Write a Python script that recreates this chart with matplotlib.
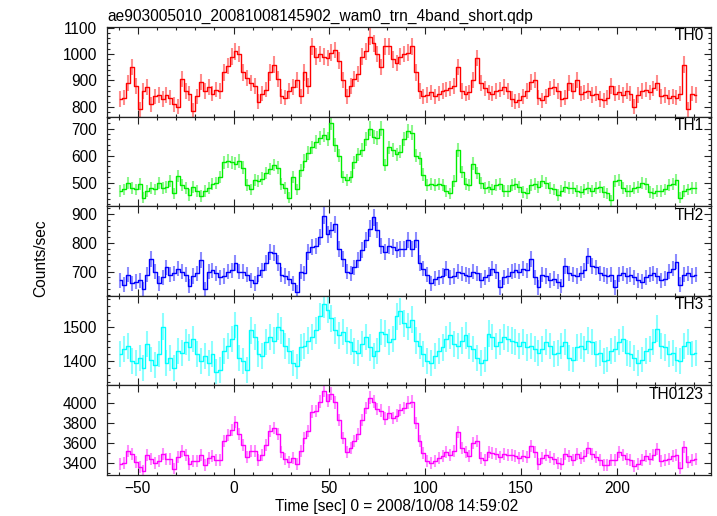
"""Suzaku WAM transient light curve, 4 bands + summed band, qdp replot."""
import numpy as np
import matplotlib
matplotlib.use('Agg')
import matplotlib.pyplot as plt
from matplotlib.ticker import MultipleLocator

plt.rcParams['font.family'] = ['Liberation Sans', 'DejaVu Sans']

TITLE = 'ae903005010_20081008145902_wam0_trn_4band_short.qdp'
XLABEL = 'Time [sec] 0 = 2008/10/08 14:59:02'
YLABEL = 'Counts/sec'

# bin centres [sec], 2 s bins
time = np.arange(-59, 242, 2)

th0 = [830, 835, 890, 950, 880, 790, 860, 875, 810, 840,
       845, 830, 845, 835, 810, 800, 905, 860, 850, 785,
       840, 895, 860, 875, 850, 865, 860, 930, 955, 990,
       1010, 1000, 930, 910, 890, 880, 820, 850, 865, 930,
       960, 905, 840, 835, 860, 875, 900, 840, 930, 880,
       1030, 990, 1000, 990, 985, 1005, 1015, 975, 900, 840,
       880, 905, 925, 990, 1010, 1065, 1040, 1000, 950, 1030,
       1030, 980, 965, 990, 1000, 1005, 1030, 930, 860, 840,
       845, 855, 840, 850, 860, 865, 870, 880, 950, 860,
       850, 855, 900, 985, 890, 870, 855, 850, 860, 865,
       875, 860, 830, 820, 825, 840, 860, 895, 900, 835,
       825, 840, 870, 875, 860, 830, 835, 890, 860, 900,
       850, 855, 860, 845, 850, 830, 825, 835, 880, 850,
       855, 845, 860, 850, 800, 845, 860, 865, 855, 870,
       890, 840, 845, 835, 840, 835, 850, 960, 790, 850,
       845]

th1 = [470, 475, 500, 480, 475, 495, 445, 470, 480, 475,
       500, 480, 485, 505, 460, 525, 490, 480, 455, 485,
       470, 450, 470, 480, 495, 500, 520, 575, 580, 575,
       570, 580, 555, 490, 475, 510, 505, 515, 535, 550,
       565, 555, 495, 480, 445, 520, 475, 545, 580, 610,
       630, 650, 665, 675, 660, 720, 640, 600, 520, 510,
       520, 575, 605, 620, 660, 700, 670, 665, 700, 565,
       630, 620, 605, 615, 660, 690, 685, 600, 590, 530,
       490, 495, 490, 495, 490, 470, 460, 505, 620, 540,
       495, 490, 570, 535, 500, 480, 485, 475, 490, 495,
       470, 470, 490, 495, 485, 465, 460, 490, 495, 485,
       505, 500, 480, 475, 455, 470, 485, 480, 480, 470,
       465, 475, 480, 470, 480, 485, 465, 460, 435, 505,
       510, 480, 470, 470, 480, 485, 500, 495, 465, 460,
       470, 470, 475, 490, 495, 510, 445, 470, 475, 480,
       480]

th2 = [670, 655, 690, 660, 665, 670, 640, 690, 745, 700,
       660, 680, 715, 690, 695, 710, 700, 690, 650, 685,
       695, 740, 640, 700, 705, 695, 680, 685, 700, 705,
       730, 700, 700, 690, 670, 660, 690, 705, 730, 770,
       765, 730, 690, 685, 675, 660, 630, 700, 695, 770,
       785, 790, 820, 895, 830, 845, 865, 780, 745, 700,
       695, 715, 740, 775, 810, 850, 890, 845, 790, 770,
       790, 785, 775, 780, 780, 810, 780, 810, 730, 710,
       690, 660, 675, 680, 685, 710, 680, 685, 700, 695,
       690, 685, 700, 695, 670, 680, 690, 710, 700, 645,
       680, 685, 700, 705, 700, 710, 705, 745, 680, 645,
       690, 685, 670, 675, 665, 650, 720, 695, 690, 685,
       695, 705, 755, 720, 715, 695, 690, 685, 690, 645,
       690, 695, 685, 690, 680, 670, 665, 680, 690, 695,
       685, 670, 675, 700, 710, 735, 655, 690, 695, 685,
       690]

th3 = [1420, 1435, 1445, 1400, 1395, 1410, 1380, 1450, 1405, 1390,
       1420, 1500, 1395, 1410, 1380, 1430, 1425, 1455, 1440, 1465,
       1420, 1400, 1415, 1395, 1420, 1370, 1375, 1430, 1445, 1465,
       1505, 1410, 1400, 1375, 1490, 1470, 1420, 1415, 1455, 1470,
       1460, 1500, 1490, 1445, 1430, 1395, 1385, 1440, 1445, 1460,
       1470, 1490, 1530, 1565, 1550, 1525, 1490, 1475, 1485, 1460,
       1455, 1430, 1425, 1450, 1470, 1440, 1415, 1430, 1485, 1480,
       1455, 1465, 1530, 1545, 1510, 1500, 1520, 1460, 1445, 1420,
       1400, 1395, 1415, 1430, 1440, 1465, 1475, 1450, 1445, 1460,
       1475, 1445, 1435, 1410, 1395, 1405, 1480, 1470, 1445, 1455,
       1470, 1465, 1460, 1455, 1445, 1455, 1440, 1445, 1435, 1425,
       1435, 1455, 1445, 1420, 1425, 1445, 1455, 1410, 1405, 1440,
       1445, 1435, 1460, 1455, 1420, 1425, 1400, 1405, 1430, 1435,
       1455, 1465, 1425, 1420, 1410, 1395, 1405, 1430, 1435, 1455,
       1495, 1445, 1440, 1420, 1425, 1405, 1400, 1445, 1455, 1420,
       1425]

# TH0123 is the sum of the four bands
th0123 = np.sum([th0, th1, th2, th3], axis=0)

PANELS = [
    # label, rates, colour, ylim, major, minor
    ('TH0', th0, '#ff0000', (763, 1102), 100, 20),
    ('TH1', th1, '#00ee00', (413, 744), 100, 20),
    ('TH2', th2, '#0000ff', (616, 928), 100, 20),
    ('TH3', th3, '#00ffff', (1330, 1590), 100, 20),
    ('TH0123', th0123, '#ff00ff', (3282, 4178), 200, 100),
]

XLIM = (-66, 249)
FS = 11.2


def draw_panel(ax, label, rate, color, ylim, major, minor, last):
    rate = np.asarray(rate, dtype=float)
    err = np.sqrt(rate)  # poisson error for 1 s exposure
    ax.errorbar(time, rate, yerr=err, fmt='none', ecolor=color,
                elinewidth=1.5, alpha=0.45, capsize=0)
    ax.step(time, rate, where='mid', color=color, lw=1.0)
    ax.set_xlim(*XLIM)
    ax.set_ylim(*ylim)
    ax.xaxis.set_major_locator(MultipleLocator(50))
    ax.xaxis.set_minor_locator(MultipleLocator(10))
    ax.yaxis.set_major_locator(MultipleLocator(major))
    ax.yaxis.set_minor_locator(MultipleLocator(minor))
    ax.tick_params(which='both', direction='in', top=True, right=True,
                   labelsize=FS, width=0.8, color='#222')
    ax.tick_params(which='major', length=5)
    ax.tick_params(which='minor', length=2.5)
    ax.tick_params(axis='y', pad=7)
    ax.tick_params(axis='x', pad=4, labelbottom=last)
    for sp in ax.spines.values():
        sp.set_linewidth(0.9)
        sp.set_color('#222')
    ax.text(0.988, 0.985, label, transform=ax.transAxes, ha='right',
            va='top', fontsize=FS)


def main():
    W, H = 717, 516
    fig = plt.figure(figsize=(W / 100, H / 100), dpi=100)
    left, right = 107 / W, 711 / W
    top, bottom = 1 - 27 / H, 1 - 475 / H
    h = (top - bottom) / len(PANELS)
    for i, (label, rate, color, ylim, major, minor) in enumerate(PANELS):
        ax = fig.add_axes([left, top - (i + 1) * h, right - left, h])
        draw_panel(ax, label, rate, color, ylim, major, minor,
                   last=(i == len(PANELS) - 1))

    fig.text(left, 1 - 21 / H, TITLE, ha='left', va='baseline', fontsize=FS)
    fig.text(397 / W, 1 - 507 / H, XLABEL, ha='center', va='center', fontsize=FS)
    fig.text(41 / W, 0.5, YLABEL, ha='center', va='center', rotation=90,
             fontsize=FS)
    fig.savefig('out.png', dpi=100)


if __name__ == '__main__':
    main()
